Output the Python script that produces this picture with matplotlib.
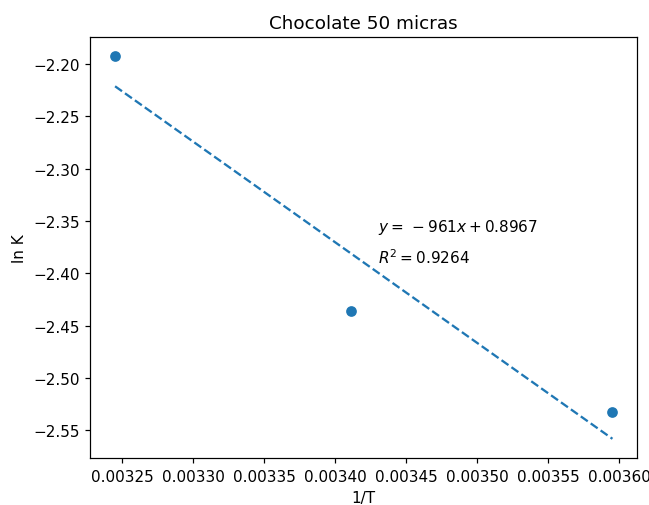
import matplotlib
matplotlib.use('Agg')
import matplotlib.pyplot as plt
import numpy as np

# 1/T and ln K
inv_T = [1/308.15, 1/293.15, 1/278.15]
ln_k = [-2.1926, -2.436, -2.532]
eq_text = r'$y = \,-961x + 0.8967$'
r2_text = r'$R^2 = 0.9264$'

fig, ax = plt.subplots(figsize=(5.9, 4.6), dpi=110)
fig.subplots_adjust(left=0.139, right=0.982, top=0.925, bottom=0.093)

ax.scatter(inv_T, ln_k)
m, b = np.polyfit(inv_T, ln_k, 1)
xs = np.array([min(inv_T), max(inv_T)])
ax.plot(xs, m*xs + b, '--')

ax.text(0.00343, -2.36, eq_text)
ax.text(0.00343, -2.39, r2_text)

ax.set_title('Chocolate 50 micras')
ax.set_xlabel('1/T')
ax.set_ylabel('ln K')

fig.savefig('out.png')
